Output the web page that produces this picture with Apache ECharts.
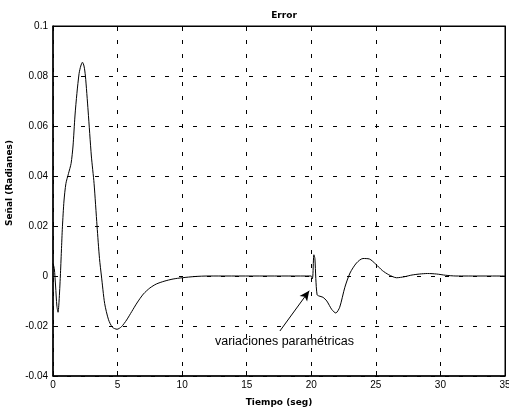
<!DOCTYPE html>
<html>
<head>
<meta charset="utf-8">
<script src="https://cdn.jsdelivr.net/npm/echarts@6/dist/echarts.min.js"></script>
<style>html,body{margin:0;padding:0;background:#fff;}#c{width:509px;height:409px;}</style>
</head>
<body>
<div id="c"></div>
<script>
// Time (s) and error (rad)
var tiempo = [0, 0.1, 0.2, 0.3, 0.39, 0.47, 0.57, 0.65, 0.73, 0.85, 1.0, 1.2, 1.4, 1.55, 1.7, 1.85, 2.02, 2.15, 2.28, 2.4, 2.51, 2.72, 2.97, 3.18, 3.41, 3.6, 3.75, 4.0, 4.3, 4.6, 4.96, 5.3, 5.7, 6.1, 6.5, 7.0, 7.5, 8.0, 8.6, 9.3, 10, 11, 12,
  20.0, 20.07, 20.12, 20.2, 20.28, 20.35, 20.45, 20.6, 20.9, 21.2, 21.6, 21.9, 22.2, 22.6, 23.0, 23.5, 24.0, 24.5, 25.0, 25.5, 26.0, 26.6, 27.2, 27.8, 28.4, 29.0, 29.7, 30.4, 31.2, 35];
var error = [0.005, 0.003, -0.004, -0.012, -0.0145, -0.010, 0.0, 0.010, 0.0197, 0.030, 0.037, 0.041, 0.045, 0.052, 0.064, 0.073, 0.081, 0.084, 0.0855, 0.084, 0.080, 0.066, 0.048, 0.037, 0.020, 0.007, 0.0, -0.011, -0.0175, -0.0205, -0.0213, -0.0203, -0.0176, -0.0142, -0.0108, -0.0072, -0.0048, -0.0032, -0.0021, -0.0012, -0.0007, -0.0002, 0,
  0, -0.0012, 0.000, 0.0085, 0.007, -0.001, -0.0075, -0.008, -0.0085, -0.010, -0.0135, -0.0148, -0.0125, -0.0045, 0.0012, 0.0052, 0.0070, 0.0068, 0.0047, 0.0022, 0.0005, -0.0007, -0.0003, 0.0004, 0.0008, 0.001, 0.0008, 0.0003, 0, 0];
var xTicks = [0, 5, 10, 15, 20, 25, 30, 35];
var yTicks = [-0.04, -0.02, 0, 0.02, 0.04, 0.06, 0.08, 0.1];
var annotText = 'variaciones paramétricas';
var arrowTail = [17.57, -0.022];
var arrowTip = [19.84, -0.0059];
var textAnchor = [17.92, -0.0262];

var data = tiempo.map(function (t, i) { return [t, error[i]]; });
var chart = echarts.init(document.getElementById('c'));
var dash = [4, 10];
var labelFont = 'Liberation Sans, Arial, sans-serif';
var boldFont = 'DejaVu Sans, sans-serif';
function yFmt(v) { return String(Math.round(v * 100) / 100); }
chart.setOption({
  animation: false,
  backgroundColor: '#fff',
  title: {
    text: 'Error', left: 279, top: 6, textAlign: 'center',
    textStyle: { fontSize: 9, fontWeight: 'bold', fontFamily: boldFont, color: '#000' }
  },
  grid: { left: 53, right: 4, top: 26, bottom: 33, outerBoundsMode: 'none', containLabel: false,
    show: true, borderColor: '#000', borderWidth: 1, backgroundColor: '#fff' },
  xAxis: [{
    type: 'value', min: 0, max: 35, interval: 5,
    name: 'Tiempo (seg)', nameLocation: 'middle', nameGap: 22,
    nameTextStyle: { fontSize: 9, fontWeight: 'bold', fontFamily: boldFont, color: '#000' },
    axisLine: { show: true, onZero: false, lineStyle: { color: '#000', width: 1.5 } },
    axisTick: { show: true, inside: true, length: 5, lineStyle: { color: '#000' } },
    axisLabel: { fontSize: 10, color: '#000', fontFamily: labelFont, margin: 4,
      formatter: function (v) { return xTicks.indexOf(v) >= 0 ? String(v) : ''; } },
    splitLine: { show: true, lineStyle: { color: '#000', type: dash, width: 1 } }
  }, {
    type: 'value', min: 0, max: 35, interval: 5, position: 'top',
    axisLine: { show: true, onZero: false, lineStyle: { color: '#000' } },
    axisTick: { show: true, inside: true, length: 5, lineStyle: { color: '#000' } },
    axisLabel: { show: false }, splitLine: { show: false }
  }],
  yAxis: [{
    type: 'value', min: -0.04, max: 0.1, interval: 0.02,
    name: 'Señal (Radianes)', nameLocation: 'middle', nameGap: 37,
    nameTextStyle: { fontSize: 9, fontWeight: 'bold', fontFamily: boldFont, color: '#000', padding: [0, 0, 0, 36] },
    axisLine: { show: true, onZero: false, lineStyle: { color: '#000', width: 1.5 } },
    axisTick: { show: true, inside: true, length: 5, lineStyle: { color: '#000' } },
    axisLabel: { fontSize: 10, color: '#000', fontFamily: labelFont, margin: 5, formatter: yFmt },
    splitLine: { show: true, lineStyle: { color: '#000', type: dash, width: 1 } }
  }, {
    type: 'value', min: -0.04, max: 0.1, interval: 0.02, position: 'right',
    axisLine: { show: true, onZero: false, lineStyle: { color: '#000' } },
    axisTick: { show: true, inside: true, length: 5, lineStyle: { color: '#000' } },
    axisLabel: { show: false }, splitLine: { show: false }
  }],
  series: [{
    type: 'line', data: data, showSymbol: false, smooth: 0.25,
    lineStyle: { color: '#000', width: 1 },
    markLine: {
      silent: true, symbol: ['none', 'arrow'], symbolSize: [7, 10],
      lineStyle: { color: '#000', type: 'solid', width: 1 },
      label: { show: false },
      data: [[{ coord: arrowTail }, { coord: arrowTip }]]
    }
  }]
});
var p = chart.convertToPixel({ xAxisIndex: 0, yAxisIndex: 0 }, textAnchor);
chart.setOption({
  graphic: [{
    type: 'text', x: p[0], y: p[1],
    style: { text: annotText, fontSize: 12.5, fontFamily: labelFont, fill: '#000', align: 'center', verticalAlign: 'middle' }
  }]
});
</script>
</body>
</html>
